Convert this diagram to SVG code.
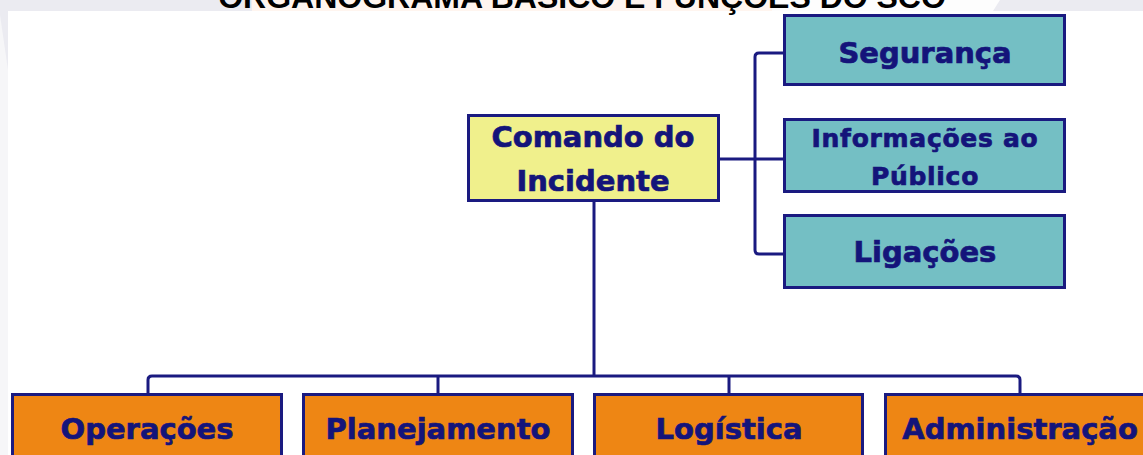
<svg xmlns="http://www.w3.org/2000/svg" width="1143" height="455" viewBox="0 0 1143 455">
  <defs>
    <style>
      .box { stroke: #1a1a80; stroke-width: 3; }
      .yel { fill: #f0f08c; }
      .teal { fill: #74bfc4; }
      .org { fill: #ee8614; }
      .lbl { font-family: "DejaVu Sans", Verdana, sans-serif; font-weight: bold; font-size: 29px; fill: #14147a; stroke: #14147a; stroke-width: 0.7px; text-anchor: middle; }
      .sm { font-size: 25px; letter-spacing: 0.7px; }
      .conn { fill: none; stroke: #1a1a80; stroke-width: 3; stroke-linejoin: round; }
      .title { font-family: "Liberation Sans", Arial, sans-serif; font-weight: bold; font-size: 32px; fill: #000000; text-anchor: middle; }
    </style>
  </defs>
  <rect x="0" y="0" width="1143" height="455" fill="#ffffff"/>
  <g id="background">
    <rect x="0" y="0" width="1143" height="11" fill="#ebebf1"/>
    <rect x="252" y="0" width="520" height="11" fill="#fff5ef"/>
    <polygon points="772,0 1000,0 993,11 772,11" fill="#fdfdfd"/>
    <rect x="0" y="11" width="8" height="444" fill="#f6f6f8"/>
    <polygon points="0,0 8,0 8,70 0,15" fill="#ebebf1"/>
  </g>
  <text id="title" class="title" x="582" y="8">ORGANOGRAMA BÁSICO E FUNÇÕES DO SCO</text>
  <g id="connectors">
    <path class="conn" d="M720,159 H783"/>
    <path class="conn" d="M783,53 H759 Q755,53 755,57 V250 Q755,254 759,254 H783"/>
    <path class="conn" d="M594,202 V376"/>
    <path class="conn" d="M148,393 V380 Q148,376 152,376 H1016 Q1020,376 1020,380 V393"/>
    <path class="conn" d="M438,376 V393"/>
    <path class="conn" d="M729,376 V393"/>
  </g>
  <g id="comando">
    <rect class="box yel" x="468.5" y="115.5" width="250" height="85"/>
    <text class="lbl" x="593" y="147">Comando do</text>
    <text class="lbl" x="593" y="191">Incidente</text>
  </g>
  <g id="seguranca">
    <rect class="box teal" x="784.5" y="15.5" width="280" height="69"/>
    <text class="lbl" x="925" y="63">Segurança</text>
  </g>
  <g id="informacoes">
    <rect class="box teal" x="784.5" y="119.5" width="280" height="72"/>
    <text class="lbl sm" x="925" y="147">Informações ao</text>
    <text class="lbl sm" x="925" y="185">Público</text>
  </g>
  <g id="ligacoes">
    <rect class="box teal" x="784.5" y="215.5" width="280" height="72"/>
    <text class="lbl" x="925" y="262">Ligações</text>
  </g>
  <g id="operacoes">
    <rect class="box org" x="12.5" y="394.5" width="269" height="80"/>
    <text class="lbl" x="147" y="439">Operações</text>
  </g>
  <g id="planejamento">
    <rect class="box org" x="303.5" y="394.5" width="269" height="80"/>
    <text class="lbl" x="438" y="439">Planejamento</text>
  </g>
  <g id="logistica">
    <rect class="box org" x="594.5" y="394.5" width="268" height="80"/>
    <text class="lbl" x="729" y="439">Logística</text>
  </g>
  <g id="administracao">
    <rect class="box org" x="885.5" y="394.5" width="269" height="80"/>
    <text class="lbl" x="1020" y="439">Administração</text>
  </g>
</svg>
